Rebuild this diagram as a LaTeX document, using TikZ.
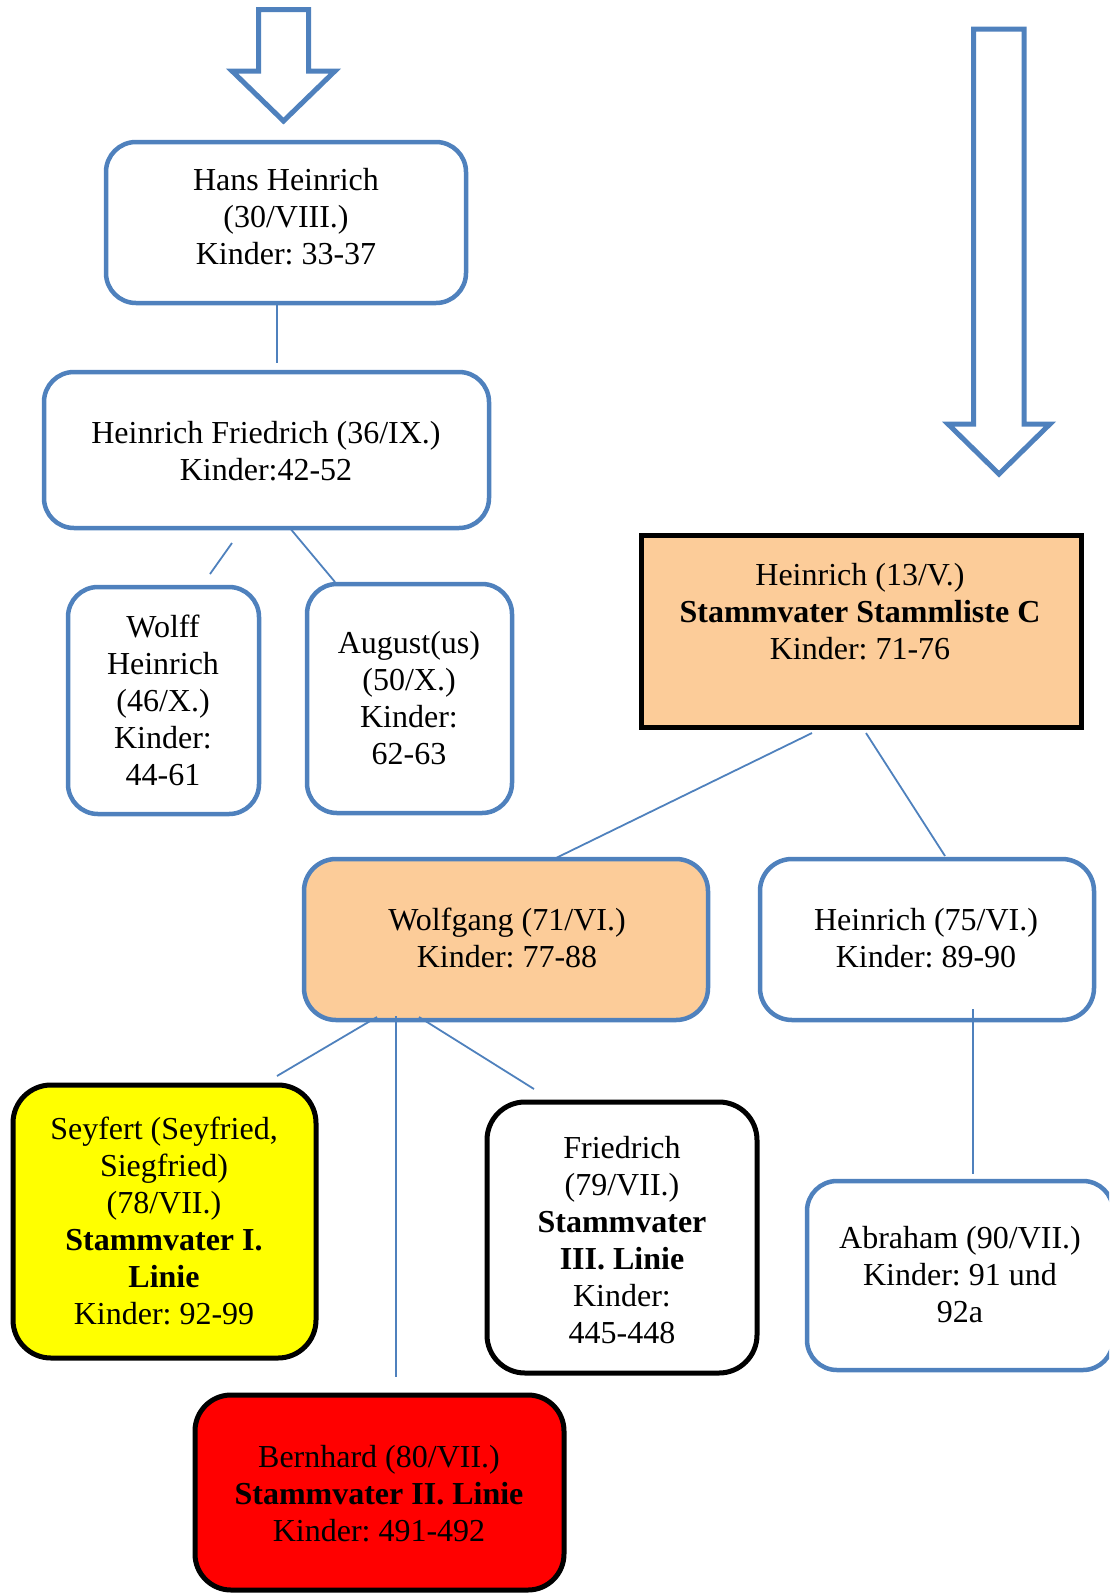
\documentclass[tikz,border=0pt]{standalone}
\usepackage{fontspec}
\setmainfont{Liberation Serif}
\usetikzlibrary{calc}
\definecolor{ofblue}{RGB}{79,129,189}
\definecolor{peach}{RGB}{252,204,153}
\definecolor{brightyellow}{RGB}{255,255,0}
\frenchspacing
\begin{document}
\begin{tikzpicture}[x=1pt,y=-1pt,
  box/.style={draw, rounded corners=30pt, inner sep=0pt, outer sep=0pt},
  bluebox/.style={box, draw=ofblue, line width=4.5pt},
  blackbox/.style={box, draw=black, line width=5pt, rounded corners=38pt},
  txt/.style={anchor=base, inner sep=0pt, font=\fontsize{32}{37}\selectfont\frenchspacing},
  link/.style={draw=ofblue, line width=1.8pt},
  bigarrow/.style={draw=ofblue, line width=5pt, fill=white, miter limit=10}
]
\clip (0,0) rectangle (1109,1593);
\useasboundingbox (0,0) rectangle (1109,1593);

% block arrows
\draw[bigarrow] (258.5,9.5) -- (308.5,9.5) -- (308.5,71) -- (335,71) -- (283.5,121)
  -- (232,71) -- (258.5,71) -- cycle;
\draw[bigarrow] (973.5,29) -- (1024,29) -- (1024,424) -- (1050,424) -- (999,474)
  -- (948,424) -- (973.5,424) -- cycle;

% boxes
\node[bluebox, minimum width=360pt, minimum height=161pt] (hans) at (286,222.5) {};
\node[bluebox, minimum width=445pt, minimum height=156pt] (hf) at (266.5,450) {};
\node[bluebox, minimum width=191pt, minimum height=227pt] (wolff) at (163.5,700.5) {};
\node[bluebox, minimum width=205pt, minimum height=229pt] (aug) at (409.5,698.5) {};
\node[draw=black, line width=5pt, fill=peach, inner sep=0pt, outer sep=0pt,
      minimum width=440pt, minimum height=192pt] (h13) at (861,631) {};
\node[bluebox, rounded corners=32pt, fill=peach, minimum width=404pt, minimum height=161pt] (wolfgang) at (506,939.5) {};
\node[bluebox, rounded corners=32pt, minimum width=334pt, minimum height=161pt] (h75) at (927,939.5) {};
\node[blackbox, fill=brightyellow, minimum width=303pt, minimum height=273pt] (seyfert) at (164.5,1221.5) {};
\node[blackbox, minimum width=270pt, minimum height=271pt] (friedrich) at (622,1237.5) {};
\node[bluebox, minimum width=306pt, minimum height=189pt] (abraham) at (960,1275.5) {};
\node[blackbox, rounded corners=36pt, fill=red, minimum width=369pt, minimum height=195pt] (bernhard) at (379.5,1492.5) {};

% connectors
\draw[link] ($(hans.south)+(-9,0)$) -- ($(hf.north)+(10.5,-9)$);
\draw[link] ($(hf.south)+(-34.5,15)$) -- ($(wolff.north)+(46.5,-13)$);
\draw[link] ($(hf.south)+(22.5,-1)$) -- ($(aug.north)+(-74.5,-2)$);
\draw[link] ($(h13.south)+(-49,6)$) -- ($(wolfgang.north)+(50,-1)$);
\draw[link] ($(h13.south)+(5,6)$) -- ($(h75.north)+(18,-3)$);
\draw[link] ($(wolfgang.south)+(-129,-3)$) -- ($(seyfert.north)+(112.5,-9)$);
\draw[link] ($(wolfgang.south)+(-110,-4)$) -- ($(bernhard.north)+(16.5,-18)$);
\draw[link] ($(wolfgang.south)+(-87,-3)$) -- ($(friedrich.north)+(-88,-13)$);
\draw[link] ($(h75.south)+(46,-11)$) -- ($(abraham.north)+(13,-7)$);

% texts
\node[txt] (t-hans) at (286,190) {\begin{tabular}[t]{@{}c@{}}Hans Heinrich\\(30/VIII.)\\Kinder: 33-37\end{tabular}};
\node[txt] (t-hf) at (266,443) {\begin{tabular}[t]{@{}c@{}}Heinrich Friedrich (36/IX.)\\Kinder:42-52\end{tabular}};
\node[txt] (t-wolff) at (163,637) {\begin{tabular}[t]{@{}c@{}}Wolff\\Heinrich\\(46/X.)\\Kinder:\\44-61\end{tabular}};
\node[txt] (t-aug) at (409,653) {\begin{tabular}[t]{@{}c@{}}August(us)\\(50/X.)\\Kinder:\\62-63\end{tabular}};
\node[txt] (t-h13) at (860,585) {\begin{tabular}[t]{@{}c@{}}Heinrich (13/V.)\\\textbf{Stammvater Stammliste C}\\Kinder: 71-76\end{tabular}};
\node[txt] (t-wolfgang) at (507,930) {\begin{tabular}[t]{@{}c@{}}Wolfgang (71/VI.)\\Kinder: 77-88\end{tabular}};
\node[txt] (t-h75) at (926,930) {\begin{tabular}[t]{@{}c@{}}Heinrich (75/VI.)\\Kinder: 89-90\end{tabular}};
\node[txt] (t-seyfert) at (164,1139) {\begin{tabular}[t]{@{}c@{}}Seyfert (Seyfried,\\Siegfried)\\(78/VII.)\\\textbf{Stammvater I.}\\\textbf{Linie}\\Kinder: 92-99\end{tabular}};
\node[txt] (t-friedrich) at (622,1158) {\begin{tabular}[t]{@{}c@{}}Friedrich\\(79/VII.)\\\textbf{Stammvater}\\\textbf{III. Linie}\\Kinder:\\445-448\end{tabular}};
\node[txt] (t-abraham) at (960,1248) {\begin{tabular}[t]{@{}c@{}}Abraham (90/VII.)\\Kinder: 91 und\\92a\end{tabular}};
\node[txt] (t-bernhard) at (379,1467) {\begin{tabular}[t]{@{}c@{}}Bernhard (80/VII.)\\\textbf{Stammvater II. Linie}\\Kinder: 491-492\end{tabular}};
\end{tikzpicture}
\end{document}
